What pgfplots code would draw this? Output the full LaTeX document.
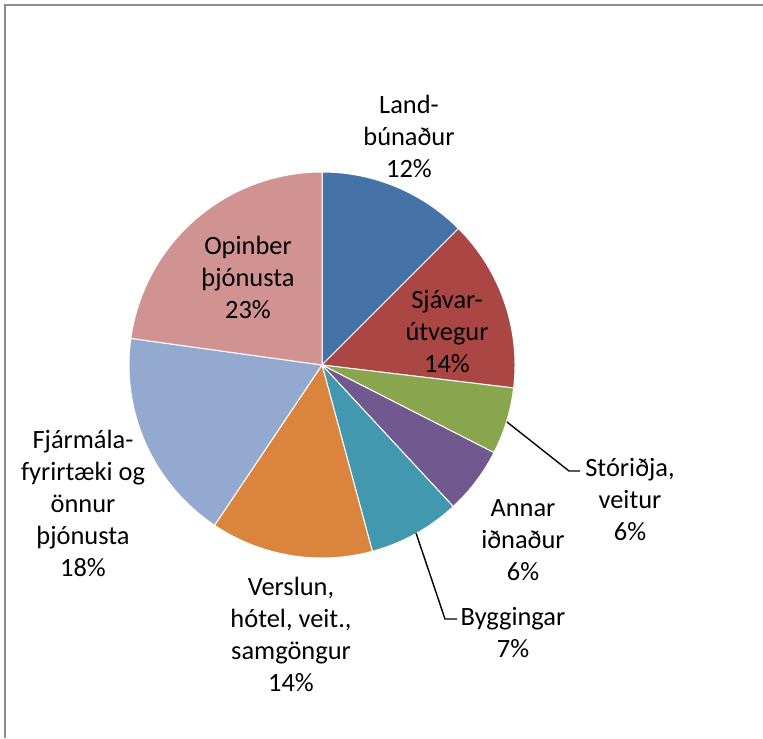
\documentclass[border=0pt]{standalone}
\usepackage{fontspec}
\setmainfont{Carlito}
\usepackage{pgfplots}
\pgfplotsset{compat=1.18}

\definecolor{cLand}{HTML}{4572A7}
\definecolor{cSjav}{HTML}{AA4643}
\definecolor{cStor}{HTML}{89A54E}
\definecolor{cAnn}{HTML}{71588F}
\definecolor{cBygg}{HTML}{4198AF}
\definecolor{cVer}{HTML}{DB843D}
\definecolor{cFja}{HTML}{93A9CF}
\definecolor{cOpi}{HTML}{D19392}
\definecolor{frame}{HTML}{8C8C8C}

\tikzset{lab/.style={font=\fontsize{13.2}{16}\selectfont, align=center, text=black, inner sep=0pt}}

% slice: start and end of the cumulative share (%), colour
\newcommand{\slice}[3]{%
  \addplot[fill=#3, draw=white, line width=0.5pt, domain=#1:#2, samples=60, variable=\p]
    ({322+193*cos(90-3.6*\p)},{373+193*sin(90-3.6*\p)}) -- (axis cs:322,373) -- cycle;
}

\begin{document}
\begin{tikzpicture}
\useasboundingbox (0,0) rectangle (381.5pt,369pt);
\begin{axis}[
    at={(0,0)}, anchor=south west,
    scale only axis,
    width=381.5pt, height=369pt,
    xmin=0, xmax=763, ymin=0, ymax=738,
    axis lines=none,
    clip=false,
]
% frame of the chart area
\draw[frame, line width=0.8pt] (axis cs:5,0) -- (axis cs:5,733) -- (axis cs:763,733);

% shares, clockwise from the top: 12.5, 14.4, 5.6, 5.6, 7.7, 13.6, 17.8, 22.8
\slice{0}{12.5}{cLand}
\slice{12.5}{26.9}{cSjav}
\slice{26.9}{32.5}{cStor}
\slice{32.5}{38.1}{cAnn}
\slice{38.1}{45.8}{cBygg}
\slice{45.8}{59.4}{cVer}
\slice{59.4}{77.2}{cFja}
\slice{77.2}{100}{cOpi}

% leader lines
\draw[black, line width=0.7pt] (axis cs:507,316) -- (axis cs:569,267) -- (axis cs:580,267);
\draw[black, line width=0.7pt] (axis cs:416,205) -- (axis cs:445,119) -- (axis cs:457,119);

\node[lab] at (axis cs:409,602) {Land-\\búnaður\\12\%};
\node[lab] at (axis cs:447,406) {Sjávar-\\útvegur\\14\%};
\node[lab] at (axis cs:630,238) {Stóriðja,\\veitur\\6\%};
\node[lab] at (axis cs:523,198) {Annar\\iðnaður\\6\%};
\node[lab] at (axis cs:513,105) {Byggingar\\7\%};
\node[lab] at (axis cs:291,104) {Verslun,\\hótel, veit.,\\samgöngur\\14\%};
\node[lab] at (axis cs:83,235) {Fjármála-\\fyrirtæki og\\önnur\\þjónusta\\18\%};
\node[lab] at (axis cs:248,461) {Opinber\\þjónusta\\23\%};
\end{axis}
\end{tikzpicture}
\end{document}
